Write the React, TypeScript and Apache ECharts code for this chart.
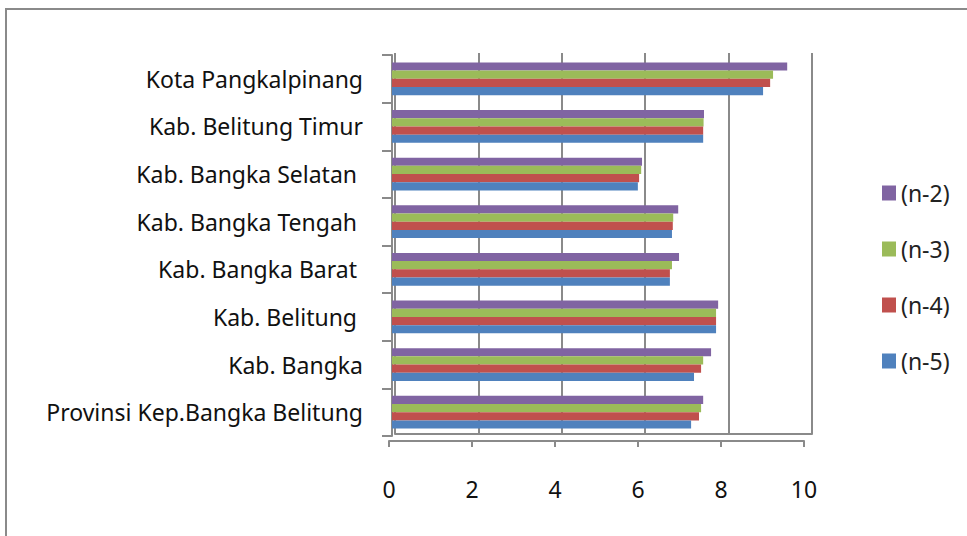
import React, { useEffect, useRef } from "react";
import * as echarts from "echarts";

const categories = [
  "Provinsi Kep.Bangka Belitung",
  "Kab. Bangka",
  "Kab. Belitung ",
  "Kab. Bangka Barat ",
  "Kab. Bangka Tengah ",
  "Kab. Bangka Selatan ",
  "Kab. Belitung Timur",
  "Kota Pangkalpinang",
];
const n2 = [7.48, 7.67, 7.84, 6.9, 6.88, 6.01, 7.5, 9.5];
const n3 = [7.43, 7.48, 7.79, 6.73, 6.76, 5.99, 7.49, 9.16];
const n4 = [7.38, 7.43, 7.79, 6.68, 6.75, 5.94, 7.48, 9.09];
const n5 = [7.19, 7.26, 7.79, 6.68, 6.73, 5.91, 7.48, 8.92];
const seriesNames = ["(n-2)", "(n-3)", "(n-4)", "(n-5)"];
const colors = ["#8064A2", "#9BBB59", "#C0504D", "#4F81BD"];
const xMin = 0;
const xMax = 10;
const xStep = 2;

const FONT = "'Noto Sans', sans-serif";
const GRAY = "#8a8a8a";

export default function App() {
  const ref = useRef<HTMLDivElement>(null);
  useEffect(() => {
    document.body.style.margin = "0";
    if (!ref.current) return;
    const chart = echarts.init(ref.current, null, { renderer: "svg" });
    const values = [n2, n3, n4, n5];
    chart.setOption({
      animation: false,
      backgroundColor: "#ffffff",
      textStyle: { fontFamily: FONT },
      graphic: [
        {
          type: "rect",
          shape: { x: 6, y: 9, width: 1100, height: 700 },
          style: { fill: "none", stroke: GRAY, lineWidth: 2 },
          z: -10,
        },
      ],
      legend: {
        orient: "vertical",
        left: 877,
        top: 175,
        data: seriesNames,
        itemWidth: 14,
        itemHeight: 15,
        itemGap: 30,
        icon: "rect",
        textStyle: { fontFamily: FONT, fontSize: 23, color: "#222", lineHeight: 26 },
      },
      grid: [
        { left: 395, right: 155, top: 53, bottom: 102 },
        { left: 392, right: 159, top: 55, bottom: 100 },
        { left: 389, right: 163, top: 55, bottom: 95 },
      ],
      xAxis: [
        {
          gridIndex: 0,
          type: "value",
          min: xMin,
          max: xMax,
          interval: xStep,
          axisLabel: { show: false },
          axisTick: { show: false },
          axisLine: { show: true, lineStyle: { color: GRAY, width: 2 } },
          splitLine: { show: true, lineStyle: { color: GRAY, width: 2 } },
        },
        {
          gridIndex: 1,
          type: "value",
          min: xMin,
          max: xMax,
          show: false,
        },
        {
          gridIndex: 2,
          type: "value",
          min: xMin,
          max: xMax,
          interval: xStep,
          axisLine: { show: true, lineStyle: { color: GRAY, width: 2 } },
          axisTick: { show: true, length: 6, lineStyle: { color: GRAY, width: 2 } },
          splitLine: { show: false },
          axisLabel: { fontFamily: FONT, fontSize: 23, color: "#111", margin: 36 },
        },
      ],
      yAxis: [
        { gridIndex: 0, type: "value", show: false },
        {
          gridIndex: 1,
          type: "category",
          data: categories,
          axisLine: { show: true, lineStyle: { color: GRAY, width: 2 } },
          axisTick: { show: true, length: 10, lineStyle: { color: GRAY, width: 2 } },
          axisLabel: {
            fontFamily: FONT,
            fontSize: 23,
            color: "#111",
            margin: 29,
            padding: [8, 0, 0, 0],
          },
        },
        { gridIndex: 2, type: "value", show: false },
      ],
      series: seriesNames.map((name, i) => ({
        name,
        type: "bar",
        xAxisIndex: 1,
        yAxisIndex: 1,
        data: values[i],
        barGap: "0%",
        barCategoryGap: "31%",
        itemStyle: { color: colors[i] },
      })),
    });
    return () => chart.dispose();
  }, []);
  return <div ref={ref} style={{ width: 967, height: 536 }} />;
}
